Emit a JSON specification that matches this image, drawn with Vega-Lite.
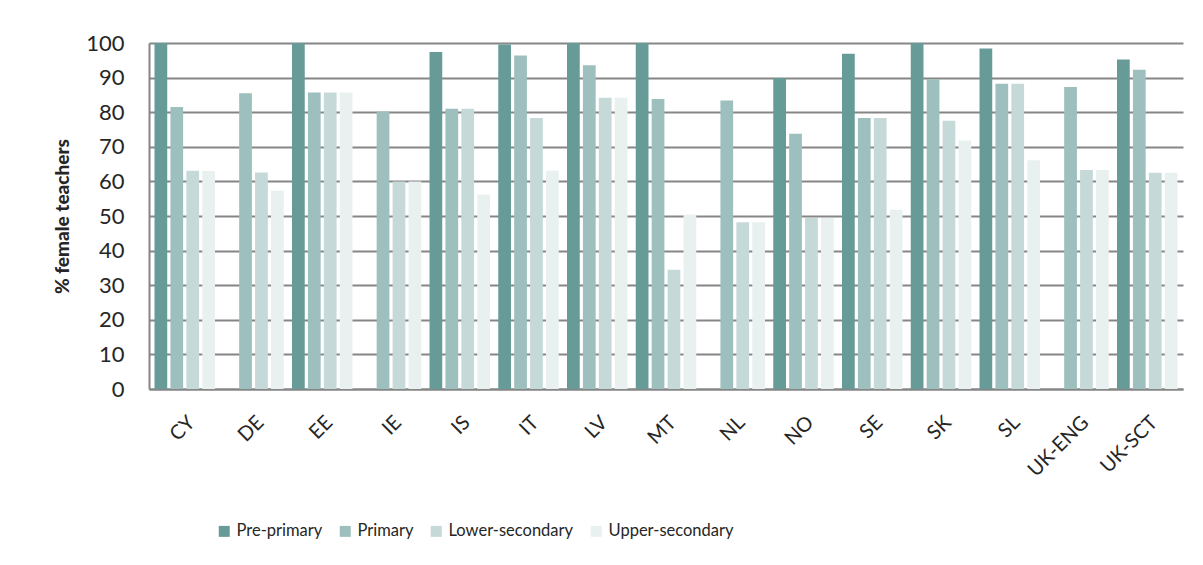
{
  "$schema": "https://vega.github.io/schema/vega-lite/v6.json",
  "autosize": "none",
  "width": 1034,
  "height": 346,
  "padding": {"left": 149, "top": 43, "right": 20, "bottom": 176},
  "background": "white",
  "config": {
    "font": "Lato",
    "view": {"stroke": null},
    "axis": {"labelColor": "#262626", "titleColor": "#262626"}
  },
  "data": {
    "values": [
      {"country": "CY", "level": "Pre-primary", "value": 100},
      {"country": "CY", "level": "Primary", "value": 81.5},
      {"country": "CY", "level": "Lower-secondary", "value": 63.1},
      {"country": "CY", "level": "Upper-secondary", "value": 63.0},
      {"country": "DE", "level": "Primary", "value": 85.5},
      {"country": "DE", "level": "Lower-secondary", "value": 62.6},
      {"country": "DE", "level": "Upper-secondary", "value": 57.3},
      {"country": "EE", "level": "Pre-primary", "value": 100},
      {"country": "EE", "level": "Primary", "value": 85.7},
      {"country": "EE", "level": "Lower-secondary", "value": 85.7},
      {"country": "EE", "level": "Upper-secondary", "value": 85.7},
      {"country": "IE", "level": "Primary", "value": 80.2},
      {"country": "IE", "level": "Lower-secondary", "value": 60.0},
      {"country": "IE", "level": "Upper-secondary", "value": 60.0},
      {"country": "IS", "level": "Pre-primary", "value": 97.4},
      {"country": "IS", "level": "Primary", "value": 81.0},
      {"country": "IS", "level": "Lower-secondary", "value": 81.0},
      {"country": "IS", "level": "Upper-secondary", "value": 56.2},
      {"country": "IT", "level": "Pre-primary", "value": 99.6},
      {"country": "IT", "level": "Primary", "value": 96.4},
      {"country": "IT", "level": "Lower-secondary", "value": 78.3},
      {"country": "IT", "level": "Upper-secondary", "value": 63.1},
      {"country": "LV", "level": "Pre-primary", "value": 100},
      {"country": "LV", "level": "Primary", "value": 93.6},
      {"country": "LV", "level": "Lower-secondary", "value": 84.2},
      {"country": "LV", "level": "Upper-secondary", "value": 84.2},
      {"country": "MT", "level": "Pre-primary", "value": 100},
      {"country": "MT", "level": "Primary", "value": 83.8},
      {"country": "MT", "level": "Lower-secondary", "value": 34.5},
      {"country": "MT", "level": "Upper-secondary", "value": 50.4},
      {"country": "NL", "level": "Primary", "value": 83.4},
      {"country": "NL", "level": "Lower-secondary", "value": 48.2},
      {"country": "NL", "level": "Upper-secondary", "value": 48.2},
      {"country": "NO", "level": "Pre-primary", "value": 89.9},
      {"country": "NO", "level": "Primary", "value": 73.8},
      {"country": "NO", "level": "Lower-secondary", "value": 49.4},
      {"country": "NO", "level": "Upper-secondary", "value": 49.4},
      {"country": "SE", "level": "Pre-primary", "value": 96.9},
      {"country": "SE", "level": "Primary", "value": 78.3},
      {"country": "SE", "level": "Lower-secondary", "value": 78.3},
      {"country": "SE", "level": "Upper-secondary", "value": 51.8},
      {"country": "SK", "level": "Pre-primary", "value": 100},
      {"country": "SK", "level": "Primary", "value": 89.5},
      {"country": "SK", "level": "Lower-secondary", "value": 77.5},
      {"country": "SK", "level": "Upper-secondary", "value": 71.8},
      {"country": "SL", "level": "Pre-primary", "value": 98.4},
      {"country": "SL", "level": "Primary", "value": 88.2},
      {"country": "SL", "level": "Lower-secondary", "value": 88.2},
      {"country": "SL", "level": "Upper-secondary", "value": 66.1},
      {"country": "UK-ENG", "level": "Primary", "value": 87.3},
      {"country": "UK-ENG", "level": "Lower-secondary", "value": 63.3},
      {"country": "UK-ENG", "level": "Upper-secondary", "value": 63.3},
      {"country": "UK-SCT", "level": "Pre-primary", "value": 95.2},
      {"country": "UK-SCT", "level": "Primary", "value": 92.3},
      {"country": "UK-SCT", "level": "Lower-secondary", "value": 62.5},
      {"country": "UK-SCT", "level": "Upper-secondary", "value": 62.5}
    ]
  },
  "mark": {"type": "bar"},
  "encoding": {
    "x": {
      "field": "country",
      "type": "nominal",
      "sort": null,
      "scale": {"paddingInner": 0.12, "paddingOuter": 0.08},
      "axis": {
        "title": null,
        "labelAngle": -45,
        "labelAlign": "right",
        "labelBaseline": "top",
        "labelFontSize": 20,
        "labelPadding": 23,
        "ticks": false,
        "domain": true,
        "domainColor": "#868686",
        "domainWidth": 2,
        "grid": false
      }
    },
    "xOffset": {
      "field": "level",
      "type": "nominal",
      "sort": ["Pre-primary", "Primary", "Lower-secondary", "Upper-secondary"],
      "scale": {"paddingInner": 0.2, "paddingOuter": 0}
    },
    "y": {
      "field": "value",
      "type": "quantitative",
      "scale": {"domain": [0, 100], "nice": false},
      "axis": {
        "title": "% female teachers",
        "titleFontSize": 19,
        "titleFontWeight": 900,
        "titlePadding": 13,
        "values": [0, 10, 20, 30, 40, 50, 60, 70, 80, 90, 100],
        "labelFontSize": 22,
        "labelPadding": 25,
        "ticks": false,
        "domain": true,
        "domainColor": "#868686",
        "domainWidth": 2,
        "grid": true,
        "gridColor": "#868686",
        "gridWidth": 2
      }
    },
    "color": {
      "field": "level",
      "type": "nominal",
      "sort": ["Pre-primary", "Primary", "Lower-secondary", "Upper-secondary"],
      "scale": {
        "domain": ["Pre-primary", "Primary", "Lower-secondary", "Upper-secondary"],
        "range": ["#669b98", "#9dbfbd", "#c4d9d8", "#e9f1f0"]
      },
      "legend": {
        "title": null,
        "orient": "none",
        "direction": "horizontal",
        "legendX": 67,
        "legendY": 480,
        "symbolType": "square",
        "symbolSize": 120,
        "symbolStrokeWidth": 0,
        "symbolOpacity": 1,
        "labelFont": "Lato",
        "labelFontSize": 16.5,
        "labelColor": "#262626",
        "labelOffset": 4,
        "columnPadding": 14
      }
    }
  }
}
